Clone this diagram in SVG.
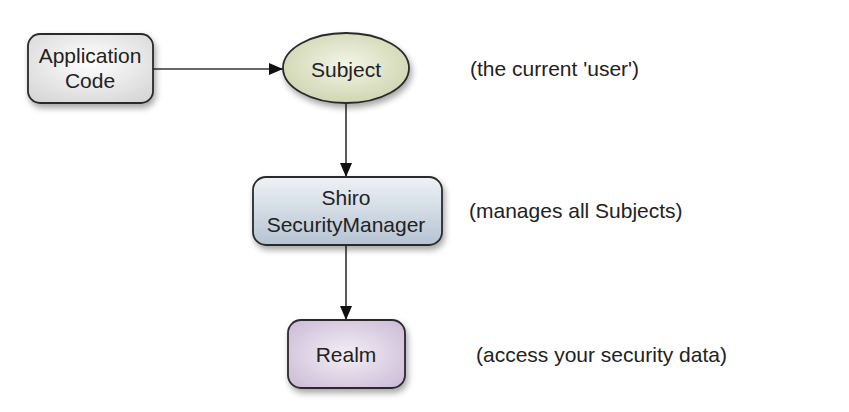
<svg xmlns="http://www.w3.org/2000/svg" width="849" height="412" viewBox="0 0 849 412">
<style>
text{font-family:"Liberation Sans",Arial,sans-serif;font-size:21px;fill:#222;}
.c{text-anchor:middle;}
.node{stroke:#2a2a2a;stroke-width:1.8;filter:url(#sh);}
.edge{stroke:#333;stroke-width:1.6;fill:none;marker-end:url(#ah);}
</style>
<defs>
<filter id="sh" x="-20%" y="-20%" width="150%" height="160%">
<feDropShadow dx="2" dy="4" stdDeviation="3" flood-color="#000" flood-opacity="0.35"/>
</filter>
<marker id="ah" viewBox="0 0 14 12" refX="14" refY="6" markerWidth="14" markerHeight="12" markerUnits="userSpaceOnUse" orient="auto">
<path d="M0,0 L14,6 L0,12 Z" fill="#111"/>
</marker>
<radialGradient id="gApp" cx="50%" cy="40%" r="70%">
<stop offset="0" stop-color="#ffffff"/><stop offset="1" stop-color="#d6d6d6"/>
</radialGradient>
<radialGradient id="gSub" cx="50%" cy="45%" r="60%">
<stop offset="0" stop-color="#f3f5e8"/><stop offset="1" stop-color="#cdd4ad"/>
</radialGradient>
<linearGradient id="gSM" x1="0" y1="0" x2="0" y2="1">
<stop offset="0" stop-color="#eef2f6"/><stop offset="1" stop-color="#b5c3d2"/>
</linearGradient>
<radialGradient id="gRealm" cx="50%" cy="50%" r="65%">
<stop offset="0" stop-color="#f3eff5"/><stop offset="1" stop-color="#cdbdd8"/>
</radialGradient>
</defs>
<g id="connectors">
<line class="edge" x1="153" y1="69" x2="283" y2="69"/>
<line class="edge" x1="346" y1="103" x2="346" y2="177"/>
<line class="edge" x1="346" y1="245" x2="346" y2="320"/>
</g>
<g id="app-code">
<rect class="node" x="28" y="34" width="125" height="69" rx="12" fill="url(#gApp)"/>
<text class="c" x="90" y="63">Application</text>
<text class="c" x="90" y="88">Code</text>
</g>
<g id="subject">
<ellipse class="node" cx="346" cy="68" rx="63" ry="35" fill="url(#gSub)"/>
<text class="c" x="346" y="77">Subject</text>
</g>
<g id="security-manager">
<rect class="node" x="253" y="177" width="189" height="68" rx="13" fill="url(#gSM)"/>
<text class="c" x="346" y="205">Shiro</text>
<text class="c" x="346" y="232">SecurityManager</text>
</g>
<g id="realm">
<rect class="node" x="288" y="320" width="117" height="68" rx="13" fill="url(#gRealm)"/>
<text class="c" x="346" y="362">Realm</text>
</g>
<g id="notes">
<text x="470" y="76">(the current 'user')</text>
<text x="469" y="218">(manages all Subjects)</text>
<text x="476" y="362">(access your security data)</text>
</g>
</svg>
